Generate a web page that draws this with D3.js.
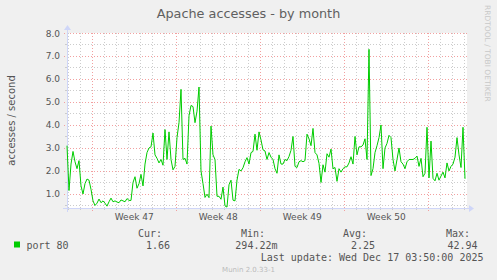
<!DOCTYPE html>
<html lang="en">
<head>
  <meta charset="UTF-8">
  <title>Apache accesses - by month</title>
  <script src="https://d3js.org/d3.v7.min.js"></script>
  <style>
    body { margin: 0; background-color: #f0f0f0; }
    svg { display: block; }
    text { font-family: "DejaVu Sans", sans-serif; }
    .mono { font-family: "DejaVu Sans Mono", monospace; }
  </style>
</head>
<body>
  <div id="viz"></div>

  <script>
    // accesses / second, one value every 4 hours
    const startTime = Date.UTC(2025, 10, 14, 21, 30);
    const endTime = startTime + 800 * 3600 * 1000;
    const stepHours = 4;
    const accesses = [
      3.1, 1.15, 2.3, 2.85, 2.4, 2.1, 2.45, 1.35, 1.0, 1.45,
      1.65, 1.6, 1.2, 0.7, 0.5, 0.6, 0.78, 0.62, 0.7, 0.6,
      0.47, 0.66, 0.82, 0.66, 0.7, 0.65, 0.62, 0.74, 0.7, 0.66,
      0.8, 0.72, 0.72, 1.5, 1.75, 1.25, 1.45, 1.85, 1.35, 2.3,
      2.8, 3.0, 3.05, 3.65, 2.7, 2.55, 2.35, 2.5, 2.25, 3.8,
      2.5, 3.7, 2.5, 2.05, 2.2, 3.45, 4.1, 5.55, 2.5, 2.55,
      2.3, 4.4, 4.85, 4.8, 4.1, 4.6, 5.65, 2.0, 1.45, 0.85,
      0.99, 0.84, 3.95, 2.7, 2.5, 0.9, 0.9, 0.77, 1.3, 0.48,
      0.43, 1.4, 1.6, 0.73, 0.7, 1.6, 2.07, 2.0, 2.14, 2.4,
      2.58, 2.3, 2.8, 2.85, 3.6, 2.9, 3.7, 3.35, 2.92, 2.87,
      2.5, 2.8, 2.6, 2.5, 2.1, 1.9, 2.7, 2.3, 2.3, 2.5,
      2.45, 2.63, 2.9, 3.5, 2.2, 2.15, 2.4, 2.45, 2.4, 2.45,
      3.6, 3.4, 3.1, 3.85, 2.8, 2.7, 2.33, 1.5, 2.27, 1.95,
      2.75, 2.6, 2.95, 2.1, 2.15, 1.55, 2.1, 1.95, 2.1, 2.18,
      2.18, 2.35, 2.62, 2.3, 3.5, 2.7, 3.05, 3.05, 3.13, 3.4,
      2.5, 7.29, 1.8, 2.1, 2.8, 3.1, 3.45, 4.0, 2.1, 3.0,
      3.2, 3.55, 3.45, 2.5, 2.0, 2.5, 3.0, 2.4, 2.3, 2.1,
      2.4, 2.5, 2.5, 2.5, 2.55, 2.65, 2.2, 2.55, 1.75, 1.9,
      3.9, 1.7, 3.3, 1.68, 1.57, 1.9, 1.6, 1.78, 1.95, 1.7,
      2.35, 2.0, 2.2, 2.3, 2.6, 3.45, 2.7, 2.15, 3.9, 1.66
    ];

    const weekStarts = [
      Date.UTC(2025, 10, 17), Date.UTC(2025, 10, 24), Date.UTC(2025, 11, 1),
      Date.UTC(2025, 11, 8), Date.UTC(2025, 11, 15)
    ];
    const weekLabels = ["Week 47", "Week 48", "Week 49", "Week 50"];
    const yTicks = [1, 2, 3, 4, 5, 6, 7, 8];
    const yMinor = [0.5, 1.5, 2.5, 3.5, 4.5, 5.5, 6.5, 7.5];

    const legendHeads = ["Cur:", "Min:", "Avg:", "Max:"];
    const legendValues = ["1.66", "294.22m", "2.25", "42.94"];
    const seriesName = "port 80";

    const W = 497, H = 280;
    const plotL = 67, plotR = 467, plotT = 33, plotB = 208;

    const svg = d3.select("#viz").append("svg")
      .attr("width", W).attr("height", H);

    svg.append("rect").attr("width", W).attr("height", H).attr("fill", "#f0f0f0");

    const x = d3.scaleUtc().domain([startTime, endTime]).range([plotL, plotR]);
    const y = d3.scaleLinear().domain([0.39, 8.0]).range([plotB, plotT]);

    // canvas
    svg.append("rect")
      .attr("x", plotL).attr("y", plotT)
      .attr("width", plotR - plotL).attr("height", plotB - plotT)
      .attr("fill", "#ffffff");

    const grid = svg.append("g").attr("shape-rendering", "crispEdges");

    // minor grid: days and half units
    const days = d3.utcDay.range(new Date(startTime), new Date(endTime))
      .filter(d => !weekStarts.includes(+d));
    grid.selectAll("line.vminor").data(days).enter().append("line")
      .attr("x1", d => Math.round(x(d)) + 0.5).attr("x2", d => Math.round(x(d)) + 0.5)
      .attr("y1", plotT).attr("y2", plotB)
      .attr("stroke", "#cccccc").attr("stroke-dasharray", "1,2");
    grid.selectAll("line.vminortick").data(days).enter().append("line")
      .attr("x1", d => Math.round(x(d)) + 0.5).attr("x2", d => Math.round(x(d)) + 0.5)
      .attr("y1", plotB).attr("y2", plotB + 2)
      .attr("stroke", "#cccccc");
    grid.selectAll("line.hminor").data(yMinor).enter().append("line")
      .attr("x1", plotL).attr("x2", plotR)
      .attr("y1", d => Math.round(y(d)) + 0.5).attr("y2", d => Math.round(y(d)) + 0.5)
      .attr("stroke", "#cccccc").attr("stroke-dasharray", "1,2");
    grid.selectAll("line.hminortick").data(yMinor).enter().append("line")
      .attr("x1", plotL - 2).attr("x2", plotL)
      .attr("y1", d => Math.round(y(d)) + 0.5).attr("y2", d => Math.round(y(d)) + 0.5)
      .attr("stroke", "#cccccc");

    // major grid: weeks and whole units
    grid.selectAll("line.vmajor").data(weekStarts).enter().append("line")
      .attr("x1", d => Math.round(x(d)) + 0.5).attr("x2", d => Math.round(x(d)) + 0.5)
      .attr("y1", plotT).attr("y2", plotB + 3)
      .attr("stroke", "#f2a0a0").attr("stroke-dasharray", "1,2");
    grid.selectAll("line.hmajor").data(yTicks).enter().append("line")
      .attr("x1", plotL - 3).attr("x2", plotR + 2)
      .attr("y1", d => Math.round(y(d)) + 0.5).attr("y2", d => Math.round(y(d)) + 0.5)
      .attr("stroke", "#f2a0a0").attr("stroke-dasharray", "1,2");

    // axes
    const axisColor = "#cfd6f8";
    svg.append("line")
      .attr("x1", plotL - 4).attr("x2", plotR + 3)
      .attr("y1", plotB + 0.5).attr("y2", plotB + 0.5)
      .attr("stroke", axisColor).attr("shape-rendering", "crispEdges");
    svg.append("line")
      .attr("x1", plotL + 0.5).attr("x2", plotL + 0.5)
      .attr("y1", plotB + 4).attr("y2", plotT - 4)
      .attr("stroke", axisColor).attr("shape-rendering", "crispEdges");
    svg.append("path")
      .attr("d", `M${plotR + 2},${plotB - 3} L${plotR + 7},${plotB + 0.5} L${plotR + 2},${plotB + 4} Z`)
      .attr("fill", axisColor);
    svg.append("path")
      .attr("d", `M${plotL - 3},${plotT - 3} L${plotL + 0.5},${plotT - 8} L${plotL + 4},${plotT - 3} Z`)
      .attr("fill", axisColor);

    // data line
    const line = d3.line()
      .x((d, i) => x(startTime + i * stepHours * 3600 * 1000))
      .y(d => y(d));
    svg.append("path")
      .datum(accesses)
      .attr("fill", "none")
      .attr("stroke", "#00cc00")
      .attr("stroke-width", 1)
      .attr("d", line);

    // y tick labels
    svg.selectAll("text.ylab").data(yTicks).enter().append("text")
      .attr("x", 60).attr("y", d => y(d) + 3.5)
      .attr("text-anchor", "end")
      .attr("font-size", "9px").attr("fill", "#555")
      .text(d3.format(".1f"));

    // week labels
    svg.selectAll("text.xlab").data(weekLabels).enter().append("text")
      .attr("x", (d, i) => x(weekStarts[i] + 3.5 * 86400000))
      .attr("y", 220)
      .attr("text-anchor", "middle")
      .attr("font-size", "9px").attr("fill", "#555")
      .text(d => d);

    // title
    svg.append("text")
      .attr("x", 248.5).attr("y", 18)
      .attr("text-anchor", "middle")
      .attr("font-size", "12.8px").attr("fill", "#606060")
      .text("Apache accesses - by month");

    // y axis title
    svg.append("text")
      .attr("transform", `translate(15, ${(plotT + plotB) / 2}) rotate(-90)`)
      .attr("text-anchor", "middle")
      .attr("font-size", "10px").attr("fill", "#555")
      .text("accesses / second");

    // watermark
    svg.append("text")
      .attr("transform", "translate(485, 5) rotate(90)")
      .attr("font-size", "7.5px").attr("fill", "#c8c8c8")
      .text("RRDTOOL / TOBI OETIKER");

    // legend
    svg.append("rect")
      .attr("x", 14).attr("y", 241.5).attr("width", 6).attr("height", 6)
      .attr("fill", "#00cc00");
    svg.append("text").attr("class", "mono")
      .attr("x", 26.5).attr("y", 249)
      .attr("font-size", "10px").attr("fill", "#555")
      .text(seriesName);

    const headRight = [162, 265, 367, 470];
    svg.selectAll("text.head").data(legendHeads).enter().append("text")
      .attr("class", "mono")
      .attr("x", (d, i) => headRight[i]).attr("y", 237)
      .attr("text-anchor", "end")
      .attr("font-size", "10px").attr("fill", "#555")
      .text(d => d);

    const valueRight = [170, 277.5, 375, 477.5];
    svg.selectAll("text.val").data(legendValues).enter().append("text")
      .attr("class", "mono")
      .attr("x", (d, i) => valueRight[i]).attr("y", 249)
      .attr("text-anchor", "end")
      .attr("font-size", "10px").attr("fill", "#555")
      .text(d => d);

    svg.append("text").attr("class", "mono")
      .attr("x", 483.5).attr("y", 261)
      .attr("text-anchor", "end")
      .attr("font-size", "10px").attr("fill", "#555")
      .text("Last update: Wed Dec 17 03:50:00 2025");

    svg.append("text")
      .attr("x", 248.5).attr("y", 272)
      .attr("text-anchor", "middle")
      .attr("font-size", "7px").attr("fill", "#bbbbbb")
      .text("Munin 2.0.33-1");
  </script>
</body>
</html>
